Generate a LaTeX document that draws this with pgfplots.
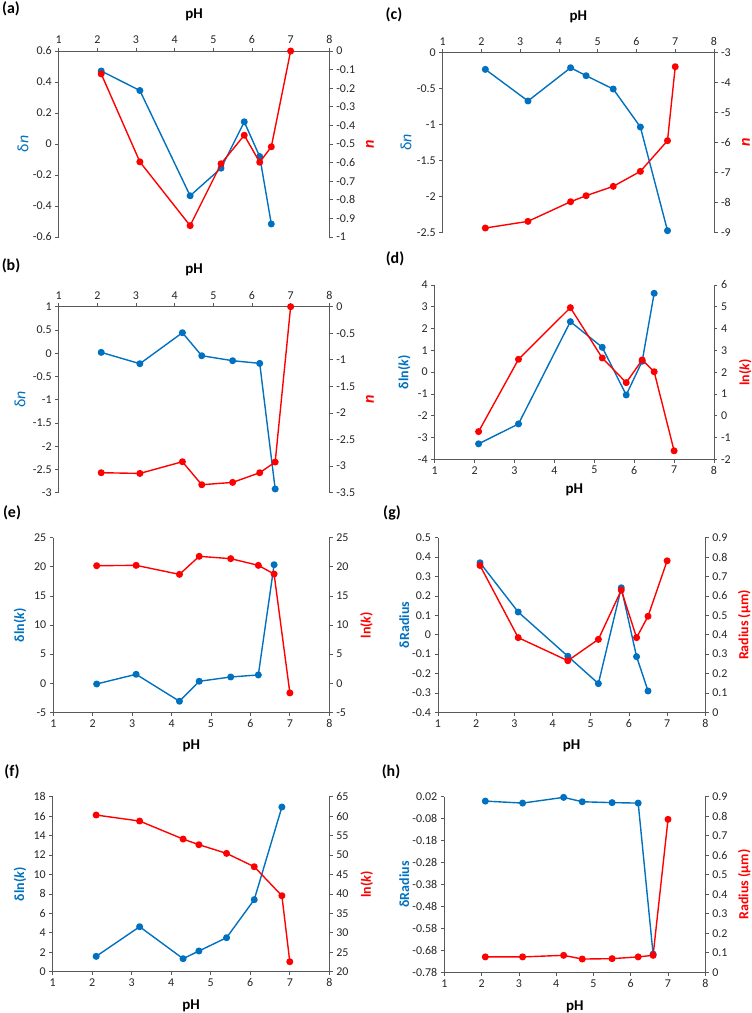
\documentclass[border=0pt]{standalone}
\usepackage{pgfplots}
\pgfplotsset{compat=1.18}
\usepackage{fontspec}
\setmainfont{Carlito}
\definecolor{eblue}{HTML}{0070C0}
\definecolor{ered}{HTML}{FF0000}
\definecolor{axgray}{HTML}{595959}
\pgfplotsset{
  base/.style={scale only axis, xmin=1, xmax=8, clip=false,
    /pgf/number format/assume math mode=true,
    tick label style={font=\fontsize{12}{14}\selectfont, text=black!85},
    axis line style={draw=axgray, line width=0.75pt},
    tick style={draw=axgray, line width=0.75pt},
    major tick length=3.5bp, tick align=outside,
    label style={font=\fontsize{14}{16}\selectfont\bfseries},
  },
  L/.style={base, axis y line*=left, xtick={1,...,8},
    ylabel style={text=eblue, at={(axis description cs:#1,0.5)}, anchor=center}},
  R/.style={base, axis y line*=right, axis x line=none,
    ylabel style={text=ered, at={(axis description cs:#1,0.5)}, anchor=center}},
  xtop/.style={axis x line*=top, xlabel={pH},
    xlabel style={text=black, font=\fontsize{15}{17}\selectfont\bfseries, at={(axis description cs:0.5,#1)}, anchor=center}},
  xbot/.style={axis x line*=bottom, xlabel={pH},
    xlabel style={text=black, font=\fontsize{15}{17}\selectfont\bfseries, at={(axis description cs:0.5,#1)}, anchor=center}},
  bl/.style={color=eblue, line width=1.4pt, mark=*, mark size=2.8pt, line join=round},
  rd/.style={color=ered, line width=1.4pt, mark=*, mark size=2.8pt, line join=round},
}
\newcommand\plab[1]{\fontsize{16}{18}\selectfont\bfseries #1}
\newcommand\dn{{\fontsize{16}{18}\selectfont\mdseries δ\textit{n}}}
\newcommand\nn{{\fontsize{16}{18}\selectfont\bfseries\itshape n}}
\begin{document}
\begin{tikzpicture}
\path[use as bounding box] (0,0) rectangle (752bp,-1013bp);
% panel labels
\node at (11bp,-9bp) {\plab{(a)}};
\node at (394bp,-15bp) {\plab{(c)}};
\node at (11bp,-266bp) {\plab{(b)}};
\node at (395bp,-259bp) {\plab{(d)}};
\node at (12bp,-513bp) {\plab{(e)}};
\node at (392bp,-513bp) {\plab{(g)}};
\node at (12bp,-772bp) {\plab{(f)}};
\node at (391bp,-772bp) {\plab{(h)}};

% ---------------- (a)
\begin{axis}[L=-0.132, xtop=1.194, at={(58.7bp,-237bp)}, width=270.6bp, height=186bp,
  ymin=-0.6, ymax=0.6, ytick={-0.6,-0.4,-0.2,0,0.2,0.4,0.6},
  ylabel={\dn}]
\addplot[bl] coordinates {(2.1,0.471) (3.1,0.345) (4.4,-0.334) (5.2,-0.156) (5.8,0.143) (6.2,-0.081) (6.5,-0.516)};
\end{axis}
\begin{axis}[R=1.150, at={(58.7bp,-237bp)}, width=270.6bp, height=186bp,
  ymin=-1, ymax=0, ytick={-1,-0.9,-0.8,-0.7,-0.6,-0.5,-0.4,-0.3,-0.2,-0.1,0},
  ylabel={\nn}]
\addplot[rd] coordinates {(2.1,-0.123) (3.1,-0.596) (4.4,-0.939) (5.2,-0.606) (5.8,-0.453) (6.2,-0.598) (6.5,-0.515) (7,0)};
\end{axis}

% ---------------- (c)
\begin{axis}[L=-0.135, xtop=1.199, at={(442.7bp,-232.3bp)}, width=271.3bp, height=179.6bp,
  ymin=-2.5, ymax=0, ytick={-2.5,-2,-1.5,-1,-0.5,0},
  ylabel={\dn}]
\addplot[bl] coordinates {(2.1,-0.232) (3.2,-0.672) (4.3,-0.209) (4.7,-0.32) (5.4,-0.506) (6.1,-1.034) (6.8,-2.477)};
\end{axis}
\begin{axis}[R=1.118, at={(442.7bp,-232.3bp)}, width=271.3bp, height=179.6bp,
  ymin=-9, ymax=-3, ytick={-9,-8,-7,-6,-5,-4,-3},
  ylabel={\nn}]
\addplot[rd] coordinates {(2.1,-8.857) (3.2,-8.635) (4.3,-7.978) (4.7,-7.777) (5.4,-7.465) (6.1,-6.964) (6.8,-5.94) (7,-3.468)};
\end{axis}

% ---------------- (b)
\begin{axis}[L=-0.143, xtop=1.197, at={(58.7bp,-492.7bp)}, width=270.6bp, height=186bp,
  ymin=-3, ymax=1, ytick={-3,-2.5,-2,-1.5,-1,-0.5,0,0.5,1},
  ylabel={\dn}]
\addplot[bl] coordinates {(2.1,0.018) (3.1,-0.226) (4.2,0.441) (4.7,-0.054) (5.5,-0.161) (6.2,-0.219) (6.6,-2.92)};
\end{axis}
\begin{axis}[R=1.150, at={(58.7bp,-492.7bp)}, width=270.6bp, height=186bp,
  ymin=-3.5, ymax=0, ytick={-3.5,-3,-2.5,-2,-1.5,-1,-0.5,0},
  ylabel={\nn}]
\addplot[rd] coordinates {(2.1,-3.124) (3.1,-3.137) (4.2,-2.917) (4.7,-3.35) (5.5,-3.306) (6.2,-3.124) (6.6,-2.923) (7,0)};
\end{axis}

% ---------------- (d)
\begin{axis}[L=-0.109, xbot=-0.176, at={(434.7bp,-459.3bp)}, width=279.3bp, height=174.3bp,
  ymin=-4, ymax=4, ytick={-4,-3,-2,-1,0,1,2,3,4},
  ylabel={δln(\textit{k})}]
\addplot[bl] coordinates {(2.1,-3.29) (3.1,-2.376) (4.4,2.318) (5.2,1.14) (5.8,-1.046) (6.2,0.5) (6.5,3.62)};
\end{axis}
\begin{axis}[R=1.112, at={(434.7bp,-459.3bp)}, width=279.3bp, height=174.3bp,
  ymin=-2, ymax=6, ytick={-2,-1,0,1,2,3,4,5,6},
  ylabel={ln(\textit{k})}]
\addplot[rd] coordinates {(2.1,-0.728) (3.1,2.59) (4.4,4.96) (5.2,2.65) (5.8,1.52) (6.2,2.56) (6.5,2.02) (7,-1.61)};
\end{axis}

% ---------------- (e)
\begin{axis}[L=-0.121, xbot=-0.193, at={(53.3bp,-712.3bp)}, width=276bp, height=174.6bp,
  ymin=-5, ymax=25, ytick={-5,0,5,10,15,20,25},
  ylabel={δln(\textit{k})}]
\addplot[bl] coordinates {(2.1,-0.13) (3.1,1.53) (4.2,-3.1) (4.7,0.33) (5.5,1.07) (6.2,1.42) (6.6,20.36)};
\end{axis}
\begin{axis}[R=1.135, at={(53.3bp,-712.3bp)}, width=276bp, height=174.6bp,
  ymin=-5, ymax=25, ytick={-5,0,5,10,15,20,25},
  ylabel={ln(\textit{k})}]
\addplot[rd] coordinates {(2.1,20.19) (3.1,20.25) (4.2,18.7) (4.7,21.8) (5.5,21.4) (6.2,20.25) (6.6,18.76) (7,-1.67)};
\end{axis}

% ---------------- (g)
\begin{axis}[L=-0.126, xbot=-0.193, at={(438bp,-712.3bp)}, width=267.3bp, height=174.6bp,
  ymin=-0.4, ymax=0.5, ytick={-0.4,-0.3,-0.2,-0.1,0,0.1,0.2,0.3,0.4,0.5},
  ylabel={δRadius}]
\addplot[bl] coordinates {(2.1,0.371) (3.1,0.117) (4.4,-0.111) (5.2,-0.252) (5.8,0.242) (6.2,-0.113) (6.5,-0.29)};
\end{axis}
\begin{axis}[R=1.146, at={(438bp,-712.3bp)}, width=267.3bp, height=174.6bp,
  ymin=0, ymax=0.9, ytick={0,0.1,0.2,0.3,0.4,0.5,0.6,0.7,0.8,0.9},
  ylabel={Radius (μm)}]
\addplot[rd] coordinates {(2.1,0.757) (3.1,0.385) (4.4,0.266) (5.2,0.376) (5.8,0.63) (6.2,0.385) (6.5,0.495) (7,0.781)};
\end{axis}

% ---------------- (f)
\begin{axis}[L=-0.118, xbot=-0.196, at={(52.7bp,-971.7bp)}, width=276.6bp, height=175bp,
  ymin=0, ymax=18, ytick={0,2,4,6,8,10,12,14,16,18},
  ylabel={δln(\textit{k})}]
\addplot[bl] coordinates {(2.1,1.58) (3.2,4.63) (4.3,1.34) (4.7,2.13) (5.4,3.5) (6.1,7.41) (6.8,16.94)};
\end{axis}
\begin{axis}[R=1.135, at={(52.7bp,-971.7bp)}, width=276.6bp, height=175bp,
  ymin=20, ymax=65, ytick={20,25,30,35,40,45,50,55,60,65},
  ylabel={ln(\textit{k})}]
\addplot[rd] coordinates {(2.1,60.29) (3.2,58.74) (4.3,54.11) (4.7,52.66) (5.4,50.43) (6.1,47.0) (6.8,39.54) (7,22.57)};
\end{axis}

% ---------------- (h)
\begin{axis}[L=-0.153, xbot=-0.194, at={(444.3bp,-972.3bp)}, width=261bp, height=175.6bp,
  ymin=-0.78, ymax=0.02, ytick={-0.78,-0.68,-0.58,-0.48,-0.38,-0.28,-0.18,-0.08,0.02},
  yticklabel style={/pgf/number format/.cd, fixed, fixed zerofill, precision=2},
  ylabel={δRadius}]
\addplot[bl] coordinates {(2.1,0.0) (3.1,-0.009) (4.2,0.017) (4.7,-0.003) (5.5,-0.007) (6.2,-0.009) (6.6,-0.697)};
\end{axis}
\begin{axis}[R=1.149, at={(444.3bp,-972.3bp)}, width=261bp, height=175.6bp,
  ymin=0, ymax=0.9, ytick={0,0.1,0.2,0.3,0.4,0.5,0.6,0.7,0.8,0.9},
  ylabel={Radius (μm)}]
\addplot[rd] coordinates {(2.1,0.079) (3.1,0.079) (4.2,0.087) (4.7,0.068) (5.5,0.07) (6.2,0.079) (6.6,0.087) (7,0.784)};
\end{axis}
\end{tikzpicture}
\end{document}
